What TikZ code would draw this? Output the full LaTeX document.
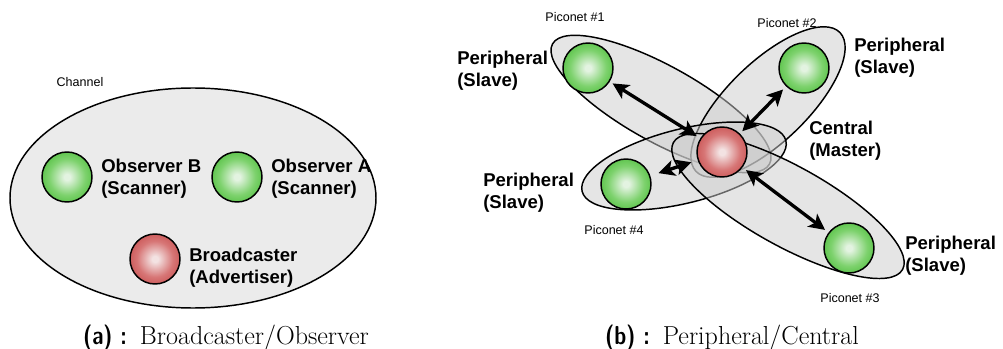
\documentclass[tikz,border=0pt]{standalone}
\usepackage{fontspec}
\usepackage{graphicx}
\newfontfamily\labelfont{Liberation Sans}
\usetikzlibrary{arrows.meta,shapes.geometric}

% ball colours
\definecolor{greenin}{HTML}{E3F3E1}
\definecolor{greenmid}{HTML}{7ED26E}
\definecolor{greendeep}{HTML}{45BA33}
\definecolor{greenout}{HTML}{32A620}
\definecolor{redin}{HTML}{F3E2E2}
\definecolor{redmid}{HTML}{D77676}
\definecolor{reddeep}{HTML}{C44646}
\definecolor{redout}{HTML}{B83233}
\definecolor{channelfill}{HTML}{EBEBEB}

\pgfdeclareradialshading{greenglow}{\pgfpointorigin}{color(0bp)=(greenin); color(3bp)=(greenin); color(18bp)=(greenmid); color(32bp)=(greendeep); color(50bp)=(greenout)}
\pgfdeclareradialshading{redglow}{\pgfpointorigin}{color(0bp)=(redin); color(3bp)=(redin); color(18bp)=(redmid); color(32bp)=(reddeep); color(50bp)=(redout)}

\tikzset{
  ball/.style={circle, draw=black, line width=1.1pt, minimum size=37.5pt, inner sep=0pt, outer sep=0pt},
  greenball/.style={ball, shading=greenglow},
  redball/.style={ball, shading=redglow},
  channelzone/.style={ellipse, draw=black, line width=1.1pt, fill=channelfill, inner sep=0pt},
  piconet/.style={ellipse, draw=black, line width=1.1pt, fill=black!20, fill opacity=0.5, inner sep=0pt},
  rolelabel/.style={font=\labelfont\bfseries\fontsize{13.9}{16.5}\selectfont, align=left, anchor=west, inner sep=0pt},
  smalllabel/.style={font=\labelfont\fontsize{9.4}{11}\selectfont, inner sep=0pt},
  caption/.style={font=\fontsize{19.5}{22}\selectfont, anchor=base, inner sep=0pt},
  link/.style={line width=2.5pt, {Stealth[length=12pt,width=12pt,inset=3pt]}-{Stealth[length=12pt,width=12pt,inset=3pt]}}
}
\newcommand\captag[1]{\scalebox{0.82}[1]{\sffamily\bfseries #1}}

\begin{document}
\begin{tikzpicture}[x=0.75pt, y=-0.75pt]
\useasboundingbox (0,0) rectangle (1003,349);

% ---------- (a) broadcaster / observer ----------
\node[channelzone, minimum width=274.5pt, minimum height=165pt] (channel) at (193,198) {};
\node[smalllabel] (channellabel) at (80,82) {Channel};
\node[greenball] (obsB) at (67,177) {};
\node[greenball] (obsA) at (237,177) {};
\node[redball] (bcast) at (155,259) {};
\node[rolelabel] (obsBlabel) at (101,179) {Observer B\\(Scanner)};
\node[rolelabel] (obsAlabel) at (271,179) {Observer A\\(Scanner)};
\node[rolelabel] (bcastlabel) at (189,268) {Broadcaster\\(Advertiser)};

% ---------- (b) peripheral / central ----------
\node[piconet, minimum width=186pt, minimum height=57pt, rotate=-29] (net1) at (661,104) {};
\node[piconet, minimum width=150pt, minimum height=60pt, rotate=44] (net2) at (768,102) {};
\node[piconet, minimum width=157.5pt, minimum height=55.5pt, rotate=14] (net4) at (684,166) {};
\node[piconet, minimum width=196.5pt, minimum height=60pt, rotate=-29] (net3) at (788,206) {};

\node[redball] (central) at (722,152) {};
\node[greenball] (per1) at (588,68) {};
\node[greenball] (per2) at (804,68) {};
\node[greenball] (per4) at (626,184) {};
\node[greenball] (per3) at (849,248) {};

\draw[link, shorten <=3pt, shorten >=3.75pt] (per1) -- (central);
\draw[link, shorten <=3pt, shorten >=3.75pt] (central) -- (per2);
\draw[link, shorten <=5.5pt, shorten >=7pt] (central) -- (per4);
\draw[link, shorten <=3.75pt, shorten >=3.75pt] (central) -- (per3);

\node[rolelabel] (per1label) at (457,71) {Peripheral\\(Slave)};
\node[rolelabel] (per2label) at (854,58) {Peripheral\\(Slave)};
\node[rolelabel] (centrallabel) at (809,141) {Central\\(Master)};
\node[rolelabel] (per4label) at (483,193) {Peripheral\\(Slave)};
\node[rolelabel] (per3label) at (905,256) {Peripheral\\(Slave)};

\node[smalllabel] (net1label) at (575,17) {Piconet \#1};
\node[smalllabel] (net2label) at (787,23) {Piconet \#2};
\node[smalllabel] (net4label) at (614,230) {Piconet \#4};
\node[smalllabel] (net3label) at (850,298) {Piconet \#3};

% ---------- captions ----------
\node[caption] (capa) at (226,344) {\captag{(a) :}\enspace Broadcaster/Observer};
\node[caption] (capb) at (732,344) {\captag{(b) :}\enspace Peripheral/Central};
\end{tikzpicture}
\end{document}
